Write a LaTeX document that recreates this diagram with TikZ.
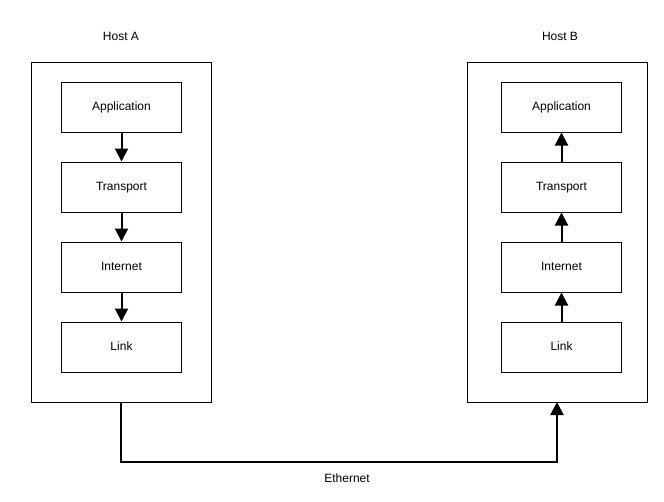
\documentclass[tikz,border=0pt]{standalone}
\usepackage{fontspec}
\setmainfont{Liberation Sans}
\usetikzlibrary{arrows.meta}
\begin{document}
\begin{tikzpicture}[x=1pt,y=-1pt,
  host/.style={draw,line width=1pt,minimum width=180pt,minimum height=340pt,inner sep=0pt},
  layer/.style={draw,line width=1pt,minimum width=120pt,minimum height=50pt,inner sep=0pt,text height=8.6pt,text depth=2.5pt,font=\fontsize{12}{14}\selectfont},
  lbl/.style={font=\fontsize{12}{14}\selectfont,inner sep=0pt,text height=8.6pt,text depth=2.5pt},
  flow/.style={line width=2pt,-{Triangle[width=13pt,length=13pt]}}]
\useasboundingbox (0,0) rectangle (664,501);
\node[host] (A) at (121.5,232) {};
\node[host] (B) at (557.5,232) {};
\node[lbl] (la) at (121,37) {Host A};
\node[lbl] (lb) at (560,37) {Host B};
\node[layer] (a1) at (121.5,107) {Application};
\node[layer] (a2) at (121.5,187) {Transport};
\node[layer] (a3) at (121.5,267) {Internet};
\node[layer] (a4) at (121.5,347) {Link};
\node[layer] (b1) at (561.5,107) {Application};
\node[layer] (b2) at (561.5,187) {Transport};
\node[layer] (b3) at (561.5,267) {Internet};
\node[layer] (b4) at (561.5,347) {Link};
\draw[flow] (a1) -- (a2);
\draw[flow] (a2) -- (a3);
\draw[flow] (a3) -- (a4);
\draw[flow] (b4) -- (b3);
\draw[flow] (b3) -- (b2);
\draw[flow] (b2) -- (b1);
\coordinate (s) at (121,402);
\coordinate (e) at (557,402);
\draw[flow] (s) -- (121,462) -- (557,462) -- (e);
\node[lbl] (eth) at (347,479) {Ethernet};
\end{tikzpicture}
\end{document}
